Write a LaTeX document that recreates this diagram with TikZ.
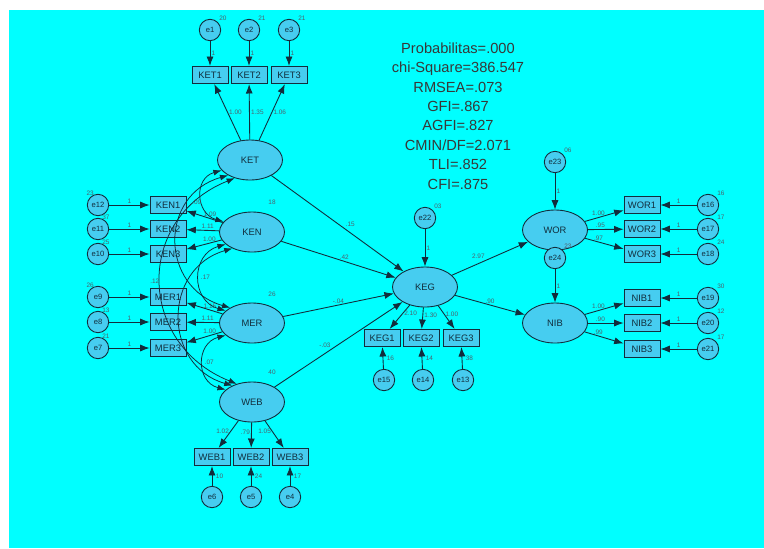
\documentclass[tikz,border=0pt]{standalone}
\usepackage{fontspec}
\setmainfont{Liberation Sans}
\usetikzlibrary{shapes.geometric,arrows.meta}
\definecolor{bgcyan}{RGB}{0,255,255}
\definecolor{shapefill}{RGB}{70,205,240}
\definecolor{ink}{RGB}{18,45,60}
\tikzset{
  lat/.style={ellipse,draw=ink,fill=shapefill,line width=.75pt,minimum width=1.95cm,minimum height=1.2cm,inner sep=0pt,text=ink,font=\fontsize{8}{9}\selectfont},
  obs/.style={rectangle,draw=ink,fill=shapefill,line width=.75pt,minimum width=1.08cm,minimum height=.52cm,inner sep=0pt,text=ink,font=\fontsize{8}{9}\selectfont},
  err/.style={circle,draw=ink,fill=shapefill,line width=.75pt,minimum size=.64cm,inner sep=0pt,text=ink,font=\fontsize{6.5}{7}\selectfont},
  reg/.style={draw=ink,line width=.75pt,-{Latex[length=8pt,width=6pt]}},
  cov/.style={draw=ink,line width=.65pt,{Latex[length=7pt,width=5pt]}-{Latex[length=7pt,width=5pt]}},
  lbl/.style={font=\fontsize{5.5}{6}\selectfont,text=ink!75,inner sep=1pt}
}
\begin{document}
\begin{tikzpicture}[x=.03cm,y=-.03cm]
\fill[white] (0,0) rectangle (764,548);
\fill[bgcyan] (9,10) rectangle (764,548);
\useasboundingbox (0,0) rectangle (764,548);
% latent variables
\node[lat] (KET) at (250,160) {KET};
\node[lat] (KEN) at (252,232) {KEN};
\node[lat] (MER) at (252,323) {MER};
\node[lat] (WEB) at (252,402) {WEB};
\node[lat] (KEG) at (425,287) {KEG};
\node[lat] (WOR) at (555,230) {WOR};
\node[lat] (NIB) at (555,323) {NIB};
\node[lbl] at (272,202) {18};
\node[lbl] at (272,294) {26};
\node[lbl] at (272,372) {40};
% KET
\foreach \i/\x/\e/\v/\w in {1/210/1/20/1.00,2/249/2/21/1.35,3/289/3/21/1.06}{
  \node[obs] (KET\i) at (\x,75) {KET\i};
  \node[err] (e\e) at (\x,30) {e\e};
  \draw[reg] (e\e) -- (KET\i) node[lbl,midway,right] {1};
  \draw[reg] (KET) -- (KET\i) node[lbl,pos=.5,right] {\w};
  \node[lbl,anchor=south west] at (e\e.north east) {\v};
}
% WEB
\foreach \i/\x/\e/\v/\w in {1/212/6/10/1.02,2/251/5/24/.79,3/290/4/17/1.05}{
  \node[obs] (WEB\i) at (\x,457) {WEB\i};
  \node[err] (e\e) at (\x,497) {e\e};
  \draw[reg] (e\e) -- (WEB\i) node[lbl,midway,right=2pt] {\v};
  \draw[reg] (WEB) -- (WEB\i) node[lbl,pos=.4,left] {\w};
}
% KEN and MER
\foreach \i/\y/\e/\w in {1/205/12/1.09,2/229/11/1.11,3/254/10/1.00}{
  \node[obs] (KEN\i) at (168,\y) {KEN\i};
  \node[err] (e\e) at (98,\y) {e\e};
  \draw[reg] (e\e) -- (KEN\i) node[lbl,midway,above] {1};
  \draw[reg] (KEN) -- (KEN\i) node[lbl,pos=.35,above] {\w};
}
\foreach \i/\y/\e/\w in {1/297/9/1.15,2/322/8/1.11,3/348/7/1.00}{
  \node[obs] (MER\i) at (168,\y) {MER\i};
  \node[err] (e\e) at (98,\y) {e\e};
  \draw[reg] (e\e) -- (MER\i) node[lbl,midway,above] {1};
  \draw[reg] (MER) -- (MER\i) node[lbl,pos=.35,above] {\w};
}
\foreach \e/\v/\a in {12/23/north west,11/37/north east,10/25/north east,9/26/north west,8/13/north east,7/21/north east}{
  \node[lbl,anchor=south] at (e\e.\a) {\v};
}
% covariances
\draw[cov] (KET.200) .. controls +(-28,8) and +(-28,-8) .. (KEN.160) node[lbl,pos=.6,left] {.09};
\draw[cov] (KEN.205) .. controls +(-35,10) and +(-35,-10) .. (MER.155) node[lbl,pos=.5,right] {.17};
\draw[cov] (MER.205) .. controls +(-30,8) and +(-30,-8) .. (WEB.155) node[lbl,pos=.5,right] {.07};
\draw[cov] (KET.215) .. controls +(-70,20) and +(-70,-20) .. (MER.145);
\draw[cov] (KEN.220) .. controls +(-70,20) and +(-70,-20) .. (WEB.140);
\draw[cov] (KET.230) .. controls +(-100,40) and +(-100,-40) .. (WEB.130) node[lbl,pos=.5,left] {.12};
% KEG
\node[err] (e22) at (425,218) {e22};
\draw[reg] (e22) -- (KEG) node[lbl,midway,right] {1};
\node[lbl,anchor=south west] at (e22.north east) {03};
\foreach \i/\x/\e/\v/\w in {1/382/15/16/2.10,2/421/14/14/1.30,3/461/13/38/1.00}{
  \node[obs] (KEG\i) at (\x,338) {KEG\i};
  \node[err] (e\e) at (\x+2,380) {e\e};
  \draw[reg] (e\e) -- (KEG\i) node[lbl,midway,right=2pt] {\v};
  \draw[reg] (KEG) -- (KEG\i) node[lbl,pos=.35,right] {\w};
}
% structural paths
\draw[reg] (KET) -- (KEG) node[lbl,pos=.55,above right] {.15};
\draw[reg] (KEN) -- (KEG) node[lbl,pos=.55,above] {.42};
\draw[reg] (MER) -- (KEG) node[lbl,pos=.5,above] {-.04};
\draw[reg] (WEB) -- (KEG) node[lbl,pos=.45,above left] {-.03};
\draw[reg] (KEG) -- (WOR) node[lbl,pos=.45,above left] {2.97};
\draw[reg] (KEG) -- (NIB) node[lbl,pos=.5,above] {.90};
% WOR and NIB
\node[err] (e23) at (555,162) {e23};
\draw[reg] (e23) -- (WOR) node[lbl,midway,right] {1};
\node[lbl,anchor=south west] at (e23.north east) {06};
\node[err] (e24) at (555,258) {e24};
\draw[reg] (e24) -- (NIB) node[lbl,midway,right] {1};
\node[lbl,anchor=south west] at (e24.north east) {23};
\foreach \i/\y/\e/\v/\w in {1/205/16/16/1.00,2/229/17/17/.95,3/254/18/24/.97}{
  \node[obs] (WOR\i) at (642,\y) {WOR\i};
  \node[err] (e\e) at (708,\y) {e\e};
  \draw[reg] (e\e) -- (WOR\i) node[lbl,midway,above] {1};
  \draw[reg] (WOR) -- (WOR\i) node[lbl,pos=.35,above] {\w};
  \node[lbl,anchor=south west] at (e\e.north east) {\v};
}
\foreach \i/\y/\e/\v/\w in {1/298/19/30/1.00,2/323/20/12/.90,3/349/21/17/.99}{
  \node[obs] (NIB\i) at (642,\y) {NIB\i};
  \node[err] (e\e) at (708,\y) {e\e};
  \draw[reg] (e\e) -- (NIB\i) node[lbl,midway,above] {1};
  \draw[reg] (NIB) -- (NIB\i) node[lbl,pos=.35,above] {\w};
  \node[lbl,anchor=south west] at (e\e.north east) {\v};
}
% fit indices
\node[align=center,text=black!78,font=\fontsize{12.5}{16.6}\selectfont] (fit) at (458,116)
  {Probabilitas=.000\\chi-Square=386.547\\RMSEA=.073\\GFI=.867\\AGFI=.827\\CMIN/DF=2.071\\TLI=.852\\CFI=.875};
\end{tikzpicture}
\end{document}
